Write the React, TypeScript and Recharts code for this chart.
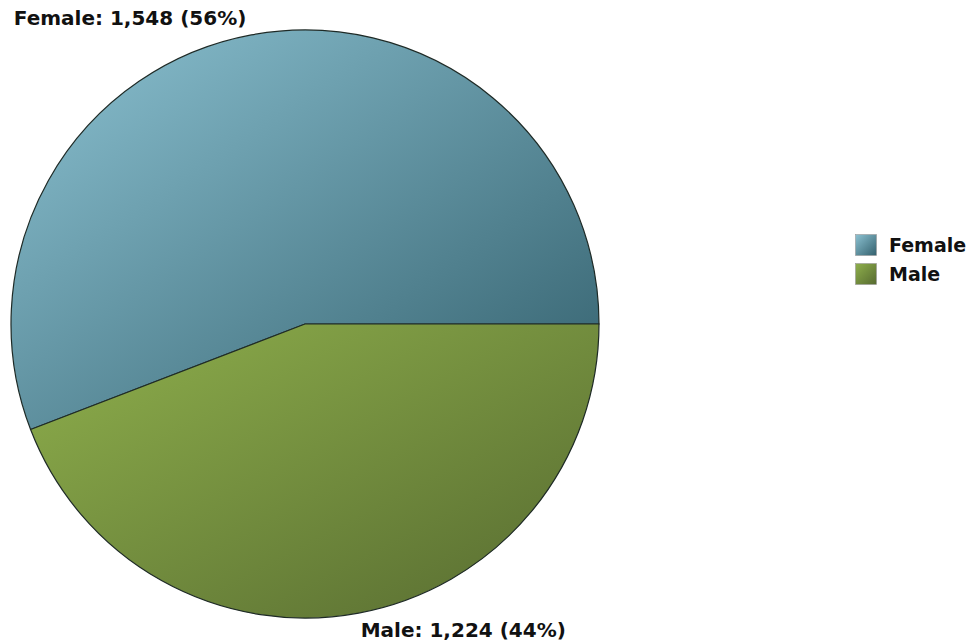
import { PieChart, Pie, Cell, Legend } from "recharts";

const categories = ["Female", "Male"];
const counts = [1548, 1224];
const percents = [56, 44];

const gradients = [
  { id: "gradFemale", from: "#8cc2d2", to: "#33606d" },
  { id: "gradMale", from: "#8fb04c", to: "#566a30" },
];

const data = categories.map((name, i) => ({
  name,
  value: counts[i],
  pct: percents[i],
}));

const RADIAN = Math.PI / 180;
const FONT = "'DejaVu Sans', Verdana, sans-serif";

const renderLabel = (props: any) => {
  const { cx, cy, midAngle, outerRadius, payload } = props;
  const x = cx + outerRadius * Math.cos(-midAngle * RADIAN);
  const y = cy + outerRadius * Math.sin(-midAngle * RADIAN);
  const above = y < cy;
  return (
    <text
      x={x < cx ? x - 5 : x + 2}
      y={above ? y - 17 : y + 17}
      textAnchor={x < cx ? "end" : "start"}
      dominantBaseline="central"
      fontFamily={FONT}
      fontWeight="bold"
      fontSize={20}
      fill="#111"
    >
      {`${payload.name}: ${payload.value.toLocaleString("en-US")} (${payload.pct}%)`}
    </text>
  );
};

const renderLegend = () => (
  <div style={{ fontFamily: FONT, fontWeight: "bold", fontSize: 19, color: "#111" }}>
    {categories.map((c, i) => (
      <div key={c} style={{ display: "flex", alignItems: "center", height: 29 }}>
        <svg width={22} height={22} style={{ marginRight: 12 }}>
          <rect x={0.5} y={0.5} width={21} height={21} fill={`url(#${gradients[i].id})`} stroke="#999" strokeWidth={0.6} />
        </svg>
        <span>{c}</span>
      </div>
    ))}
  </div>
);

export default function App() {
  return (
    <div style={{ position: "absolute", left: 0, top: 0, width: 976, height: 642, background: "#fff" }}>
      <PieChart width={976} height={642} margin={{ top: 0, right: 0, bottom: 0, left: 0 }}>
        <defs>
          {gradients.map((g) => (
            <linearGradient key={g.id} id={g.id} x1="0" y1="0" x2="1" y2="1">
              <stop offset="0%" stopColor={g.from} />
              <stop offset="100%" stopColor={g.to} />
            </linearGradient>
          ))}
        </defs>
        <Pie
          data={data}
          dataKey="value"
          nameKey="name"
          cx={305}
          cy={324}
          outerRadius={294}
          startAngle={0}
          endAngle={360}
          stroke="#1e2a26"
          strokeWidth={1.2}
          label={renderLabel}
          labelLine={false}
          isAnimationActive={false}
        >
          {data.map((d, i) => (
            <Cell key={d.name} fill={`url(#${gradients[i].id})`} />
          ))}
        </Pie>
        <Legend
          content={renderLegend}
          layout="vertical"
          verticalAlign="top"
          align="right"
          wrapperStyle={{ left: 855, top: 230, width: 121 }}
        />
      </PieChart>
    </div>
  );
}
